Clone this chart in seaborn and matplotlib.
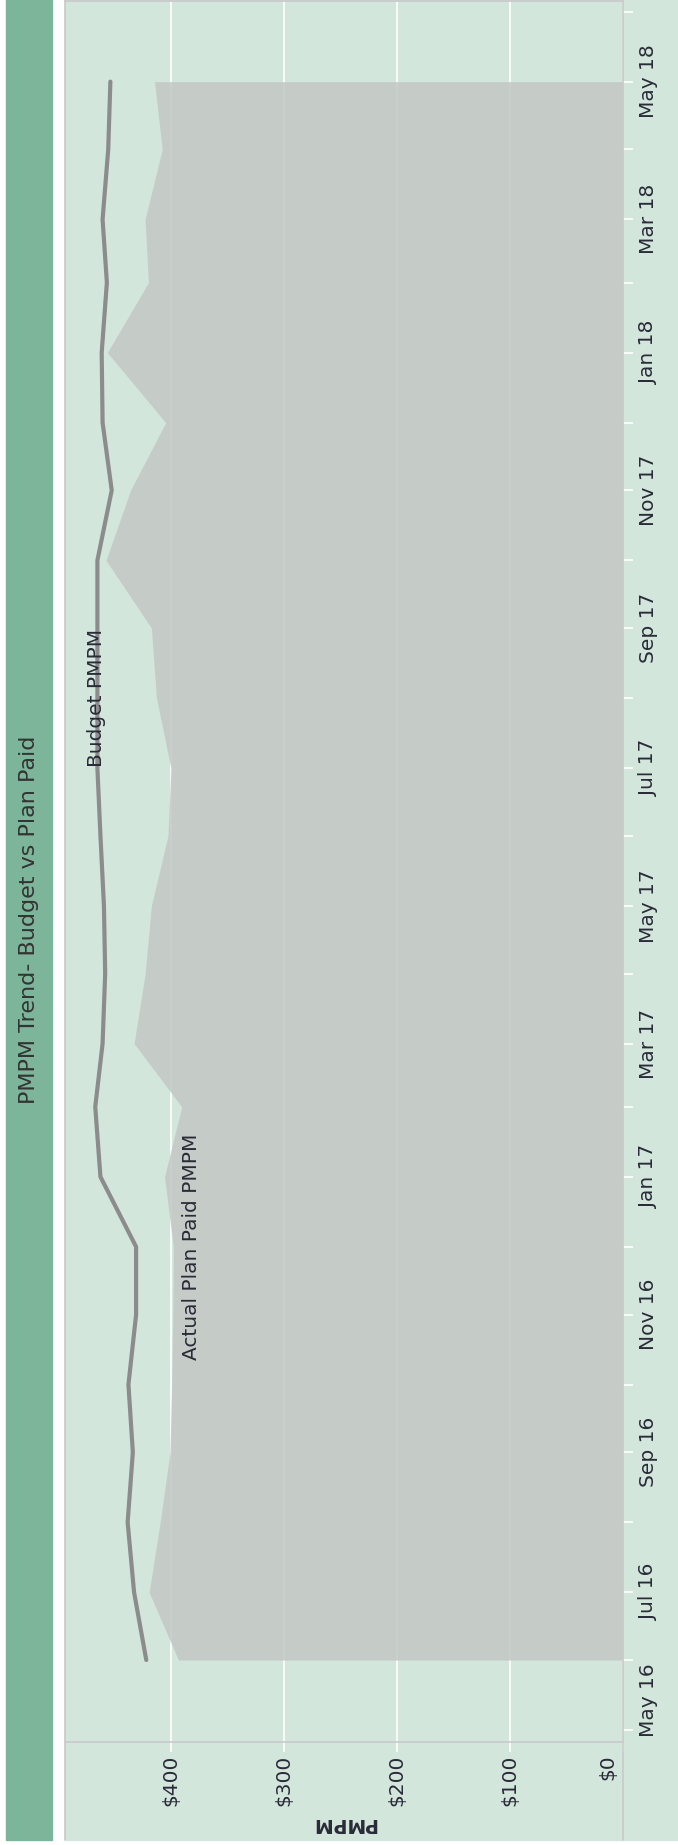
import matplotlib
matplotlib.use("Agg")
import matplotlib.pyplot as plt
import matplotlib.dates as mdates
from matplotlib.patches import Rectangle
from matplotlib.lines import Line2D
from matplotlib.transforms import ScaledTranslation
import pandas as pd
import seaborn as sns

# ---- data -------------------------------------------------------------
months = ["2016-06", "2016-07", "2016-08", "2016-09", "2016-10", "2016-11",
          "2016-12", "2017-01", "2017-02", "2017-03", "2017-04", "2017-05",
          "2017-06", "2017-07", "2017-08", "2017-09", "2017-10", "2017-11",
          "2017-12", "2018-01", "2018-02", "2018-03", "2018-04", "2018-05"]
actual_pmpm = [393.5, 419.5, 409.7, 401.0, 399.5, 398.5,
               398.0, 405.9, 390.6, 432.8, 423.0, 417.5,
               402.8, 400.2, 413.0, 417.5, 457.7, 436.0,
               404.8, 456.5, 420.1, 423.1, 407.9, 414.7]
budget_pmpm = [422.0, 432.8, 438.5, 433.9, 437.8, 431.0,
               431.0, 462.6, 467.2, 460.7, 458.4, 459.5,
               462.6, 465.3, 465.3, 465.3, 465.3, 452.6,
               460.7, 461.5, 456.9, 460.7, 455.7, 453.8]
value_ticks = [0, 100, 200, 300, 400]
value_tick_labels = ["$0", "$100", "$200", "$300", "$400"]

title = "PMPM Trend- Budget vs Plan Paid"
budget_label = "Budget PMPM"
actual_label = "Actual Plan Paid PMPM"
budget_label_month = "2017-08"
actual_label_month = "2016-12"

df = pd.DataFrame({"month": pd.to_datetime(months),
                   "actual": actual_pmpm,
                   "budget": budget_pmpm})

# ---- style ------------------------------------------------------------
sns.set_style("white")
plt.rcParams["font.family"] = ["DejaVu Sans"]

PANEL = "#d3e6dc"
BAR = "#7db59a"
AREA = "#c3c8c4"
LINE = "#8c8c8c"
TEXT = "#2a2a38"
BORDER = "#c8cac9"

W, H = 678, 1845
fig = plt.figure(figsize=(W / 100, H / 100), dpi=100)


def fx(px):
    return px / W


def fy(py):
    return 1 - py / H


# title bar and panel background (the chart is laid out sideways)
fig.patches.append(Rectangle((fx(6), fy(1840)), fx(46), 1840 / H,
                             transform=fig.transFigure, color=BAR, zorder=-10))
fig.patches.append(Rectangle((fx(65), fy(1840)), fx(W - 65), 1840 / H,
                             transform=fig.transFigure, color=PANEL, zorder=-10))

ax_left, ax_right, ax_top, ax_bottom = 65, 622.6, 1, 1742
ax = fig.add_axes([fx(ax_left), fy(ax_bottom), fx(ax_right - ax_left),
                   (ax_bottom - ax_top) / H])
ax.set_facecolor(PANEL)
for s in ax.spines.values():
    s.set_visible(False)

# actual paid area (value axis runs right-to-left, time runs upward)
ax.fill_betweenx(df["month"], df["actual"], 0, color=AREA, alpha=0.85,
                 lw=0, zorder=1)
# budget line
sns.lineplot(data=df, x="budget", y="month", orient="y", sort=True,
             color=LINE, lw=3, ax=ax, zorder=3, solid_capstyle="round")

ax.set_xlim(494, 0)
start = mdates.date2num(pd.Timestamp("2016-05-01"))
end = mdates.date2num(pd.Timestamp("2018-05-01"))
ax.set_ylim(start - 5.3, end + 35.7)

ax.set_axisbelow(True)
ax.grid(axis="x", color="white", lw=1.2)
ax.grid(axis="y", visible=False)

ax.set_xticks(value_ticks)
ax.set_xticklabels(value_tick_labels)
ax.tick_params(axis="x", which="both", direction="out", length=7, width=1.2,
               color="white", pad=2, labelsize=14.5, labelcolor=TEXT,
               labelrotation=90, bottom=True)

ax.yaxis.set_major_locator(mdates.MonthLocator(bymonth=[1, 3, 5, 7, 9, 11]))
ax.yaxis.set_major_formatter(mdates.DateFormatter("%b %y"))
ax.yaxis.set_minor_locator(mdates.MonthLocator())
ax.yaxis.tick_right()
ax.tick_params(axis="y", which="both", direction="out", length=7, width=1.2,
               color="white", pad=5, labelsize=14.5, labelcolor=TEXT,
               labelrotation=90, left=False, right=True)
for lab in ax.get_yticklabels():
    lab.set_verticalalignment("center")
    lab.set_horizontalalignment("left")

ax.set_ylabel("")
ax.set_xlabel("PMPM", fontweight="bold", rotation=180, fontsize=13.5,
              color=TEXT)
ax.xaxis.set_label_coords(0.5, (fy(1823) - fy(ax_bottom)) / ((ax_bottom - ax_top) / H))
ax.xaxis.label.set_verticalalignment("center")

# series labels
bm = pd.Timestamp(budget_label_month)
am = pd.Timestamp(actual_label_month)
bval = df.loc[df["month"] == bm, "budget"].iloc[0]
aval = df.loc[df["month"] == am, "actual"].iloc[0]
ax.annotate(budget_label, xy=(bval, mdates.date2num(bm)), xytext=(-1, 0),
            textcoords="offset points", rotation=90, ha="center", va="center",
            fontsize=14.5, color=TEXT, zorder=5)
ax.annotate(actual_label, xy=(aval, mdates.date2num(am)), xytext=(13, 0),
            textcoords="offset points", rotation=90, ha="center", va="center",
            fontsize=14.5, color=TEXT, zorder=5)

# title on the side bar
fig.text(fx(29.5), fy(919.5), title, rotation=90, ha="center", va="center",
         fontsize=16, color="#333333")

# panel borders and axis lines
for (x0, y0, x1, y1) in [(ax_left, 0, ax_left, 1840),
                         (ax_right, 0, ax_right, 1840),
                         (ax_left, 1, ax_right, 1),
                         (ax_left, ax_bottom, ax_right, ax_bottom)]:
    fig.lines.append(Line2D([fx(x0), fx(x1)], [fy(y0), fy(y1)],
                            transform=fig.transFigure, color=BORDER, lw=1.2,
                            zorder=10))

# end labels are nudged so they stay inside the axis bands
fig.canvas.draw()
for tick in ax.yaxis.get_major_ticks():
    if "May 16" in (tick.label1.get_text(), tick.label2.get_text()):
        for lab in (tick.label1, tick.label2):
            lab.set_transform(lab.get_transform()
                              + ScaledTranslation(0, 0.30, fig.dpi_scale_trans))
for tick in ax.xaxis.get_major_ticks():
    if tick.label1.get_text() == "$0":
        tick.label1.set_transform(tick.label1.get_transform()
                                  + ScaledTranslation(-0.145, 0, fig.dpi_scale_trans))

fig.savefig("out.png", dpi=100, facecolor="white")
